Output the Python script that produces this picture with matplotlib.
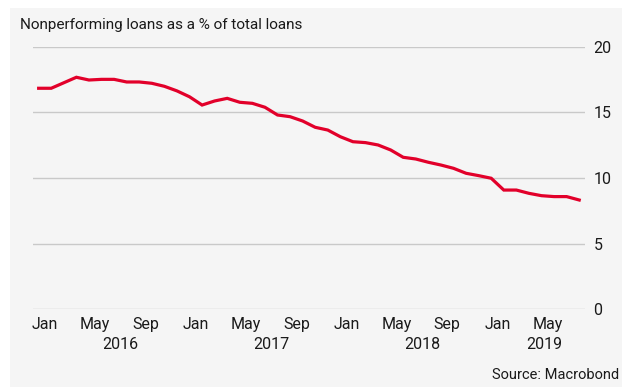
import matplotlib
matplotlib.use('Agg')
import matplotlib.pyplot as plt
from matplotlib.patches import Rectangle

plt.rcParams['font.family'] = ['Roboto', 'DejaVu Sans']

# Monthly NPL ratio, Jan 2016 .. Aug 2019 (month index 0 = Jan 2016)
npl_ratio = [16.85, 16.85, 17.27, 17.69, 17.48, 17.53, 17.53, 17.33, 17.33, 17.23,
             17.00, 16.65, 16.20, 15.57, 15.88, 16.08, 15.78, 15.70, 15.40, 14.81,
             14.68, 14.35, 13.87, 13.66, 13.15, 12.77, 12.70, 12.52, 12.14, 11.58,
             11.45, 11.20, 10.99, 10.74, 10.36, 10.18, 9.98, 9.08, 9.08, 8.83,
             8.65, 8.58, 8.58, 8.32]
months = list(range(len(npl_ratio)))

month_ticks = [0, 4, 8, 12, 16, 20, 24, 28, 32, 36, 40]
month_labels = ['Jan', 'May', 'Sep'] * 3 + ['Jan', 'May']
years = ['2016', '2017', '2018', '2019']
y_ticks = [0, 5, 10, 15, 20]

W, H = 622, 387
fig = plt.figure(figsize=(W / 100, H / 100), dpi=100)
fig.patch.set_facecolor('white')

# grey panel behind the chart
fig.add_artist(Rectangle((10 / W, 0), 1 - 10 / W, (H - 8) / H,
                         transform=fig.transFigure, facecolor='#f5f5f5',
                         edgecolor='none', zorder=0))

ax = fig.add_axes([33 / W, (H - 309) / H, (585 - 33) / W, (309 - 47) / H])
ax.set_facecolor('none')

ax.plot(months, npl_ratio, color='#e2002a', linewidth=2.3,
        solid_joinstyle='miter', zorder=3)

x_left, x_right = -0.45, 43.46
ax.set_xlim(x_left, x_right)
ax.set_ylim(0, 20)
for v in y_ticks:
    ax.axhline(v, color='#c9c9c9', linewidth=1.0, zorder=1)

for s in ax.spines.values():
    s.set_visible(False)

ax.yaxis.tick_right()
ax.set_yticks(y_ticks)
ax.tick_params(axis='y', length=0, pad=6, labelsize=11.5, labelcolor='#1a1a1a')

ax.set_xticks([m + 0.5 for m in month_ticks])
ax.set_xticklabels(month_labels)
ax.tick_params(axis='x', length=0, pad=6, labelsize=11.5, labelcolor='#1a1a1a')

# year labels centred under the visible part of each year
for i, yr in enumerate(years):
    start = 12 * i
    end = min(start + 12, x_right)
    ax.text((start + end) / 2 + 0.5, -0.135, yr, transform=ax.get_xaxis_transform(),
            ha='center', va='center', fontsize=11.5, color='#1a1a1a')

fig.text(20 / W, 1 - 25 / H, 'Nonperforming loans as a % of total loans',
         ha='left', va='center', fontsize=11, color='#1a1a1a')
fig.text(619 / W, 1 - 375 / H, 'Source: Macrobond',
         ha='right', va='center', fontsize=10.5, color='#1a1a1a')

fig.savefig('out.png', dpi=100)
